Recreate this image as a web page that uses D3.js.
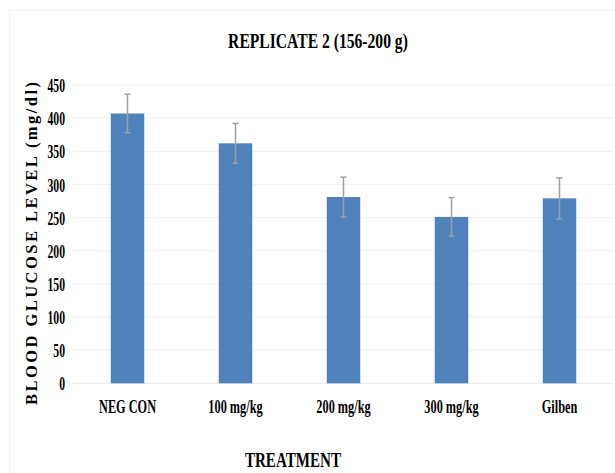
<!DOCTYPE html>
<html>
<head>
<meta charset="utf-8">
<script src="https://cdn.jsdelivr.net/npm/d3@7"></script>
<style>
  html, body { margin: 0; padding: 0; background: #fff; }
  svg { display: block; }
  text { font-family: "Liberation Serif", "Times New Roman", serif; font-weight: bold; fill: #000; }
</style>
</head>
<body>
<svg id="chart" width="615" height="473"></svg>
<script>
const categories = ["NEG CON", "100 mg/kg", "200 mg/kg", "300 mg/kg", "Gilben"];
const values = [407, 362, 281, 251, 279];
const errors = [29, 30, 30, 29, 31];
const yTicks = [0, 50, 100, 150, 200, 250, 300, 350, 400, 450];
const title = "REPLICATE 2 (156-200 g)";
const xTitle = "TREATMENT";
const yTitle = "BLOOD GLUCOSE LEVEL (mg/dl)";

const svg = d3.select("#chart");

// faint chart area border
svg.append("rect").attr("x", 9.5).attr("y", 10.5).attr("width", 640).attr("height", 500)
  .attr("fill", "none").attr("stroke", "#f1f1f1");

const x = d3.scaleBand().domain(categories).range([73.5, 613.5])
  .paddingInner(0.69).paddingOuter(0.345);
const y = d3.scaleLinear().domain([0, 450]).range([383.3, 85]);

// gridlines
svg.append("g").selectAll("line").data(yTicks).join("line")
  .attr("x1", 72).attr("x2", 613)
  .attr("y1", d => y(d)).attr("y2", d => y(d))
  .attr("stroke", d => d === 0 ? "#e6e6e6" : "#efefef").attr("stroke-width", 1);

// helper for compressed text
function squeeze(sel, factor) {
  sel.each(function() {
    const n = this.getComputedTextLength();
    this.setAttribute("textLength", n * factor);
    this.setAttribute("lengthAdjust", "spacingAndGlyphs");
  });
}

// y tick labels
const yAxis = d3.axisLeft(y).tickValues(yTicks).tickSize(0).tickPadding(0);
const ya = svg.append("g").attr("transform", "translate(65,0)").call(yAxis);
ya.select(".domain").remove();
ya.selectAll("text").attr("font-size", 19.5).attr("font-family", "Liberation Serif")
  .attr("font-weight", "bold").attr("fill", "#000").attr("dy", "0.34em").attr("x", 0)
  .call(squeeze, 0.6);

// bars
svg.append("g").selectAll("rect").data(values).join("rect")
  .attr("x", (d, i) => x(categories[i]))
  .attr("width", x.bandwidth())
  .attr("y", d => y(d))
  .attr("height", d => y(0) - y(d))
  .attr("fill", "#4f81bd");

// error bars
const eg = svg.append("g").attr("stroke", "#a0a0a0").attr("stroke-width", 1.5);
values.forEach((v, i) => {
  const cx = x(categories[i]) + x.bandwidth() / 2;
  eg.append("line").attr("x1", cx).attr("x2", cx).attr("y1", y(v + errors[i])).attr("y2", y(v - errors[i]));
  eg.append("line").attr("x1", cx - 3).attr("x2", cx + 3).attr("y1", y(v + errors[i])).attr("y2", y(v + errors[i]));
  eg.append("line").attr("x1", cx - 3).attr("x2", cx + 3).attr("y1", y(v - errors[i])).attr("y2", y(v - errors[i]));
});

// x category labels
const xAxis = d3.axisBottom(x).tickSize(0).tickPadding(0);
const xa = svg.append("g").attr("transform", "translate(0,413)").call(xAxis);
xa.select(".domain").remove();
xa.selectAll("text").attr("font-size", 19.5).attr("font-family", "Liberation Serif")
  .attr("font-weight", "bold").attr("fill", "#000").attr("dy", 0).attr("y", 0)
  .call(squeeze, 0.63);

// title
svg.append("text").attr("x", 318).attr("y", 48).attr("text-anchor", "middle")
  .attr("font-size", 22).text(title).call(squeeze, 0.71);

// x axis title
svg.append("text").attr("x", 293).attr("y", 466.5).attr("text-anchor", "middle")
  .attr("font-size", 20).text(xTitle).call(squeeze, 0.755);

// y axis title
svg.append("text").attr("transform", "translate(36.5,243.5) rotate(-90)")
  .attr("text-anchor", "middle").attr("font-size", 16.5)
  .attr("textLength", 323).attr("lengthAdjust", "spacing")
  .text(yTitle);
</script>
</body>
</html>
